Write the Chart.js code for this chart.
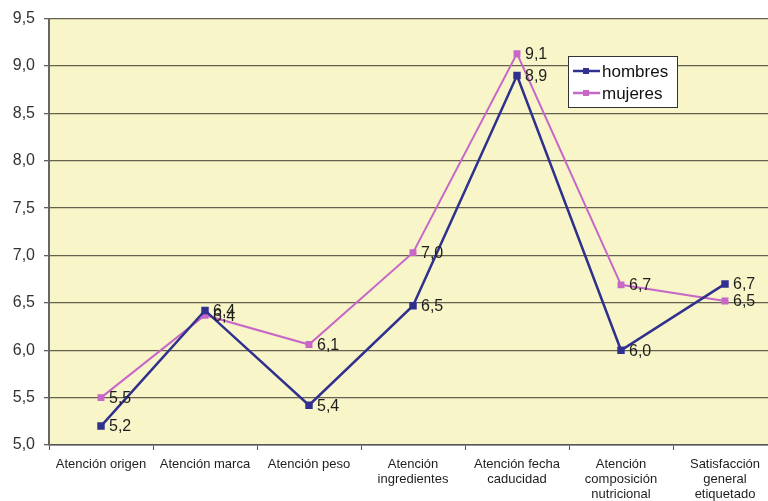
<!DOCTYPE html>
<html>
<head>
  <title>Atención al etiquetado por sexo</title>
  <script src="https://cdn.jsdelivr.net/npm/chart.js@4.4.0/dist/chart.umd.min.js"></script>
  <style>
    body { margin: 0; overflow: hidden; background: #fff; }
    #wrap { position: relative; width: 790px; height: 501px; }
  </style>
</head>
<body>
  <div id="wrap">
    <canvas id="lineChart" width="790" height="501"></canvas>
  </div>

  <script>
    // categories shown along the bottom (multi-line labels)
    const categories = [
      ['Atención origen'],
      ['Atención marca'],
      ['Atención peso'],
      ['Atención', 'ingredientes'],
      ['Atención fecha', 'caducidad'],
      ['Atención', 'composición', 'nutricional'],
      ['Satisfacción', 'general', 'etiquetado']
    ];

    const hombres = [5.2, 6.42, 5.42, 6.47, 8.9, 6.0, 6.7];
    const mujeres = [5.5, 6.37, 6.06, 7.03, 9.13, 6.69, 6.52];

    const yTicks = [5.0, 5.5, 6.0, 6.5, 7.0, 7.5, 8.0, 8.5, 9.0, 9.5];

    const fmt = v => v.toFixed(1).replace('.', ',');
    const FONT = '"Liberation Sans", Arial, sans-serif';

    // pale yellow plot background
    const plotBg = {
      id: 'plotBg',
      beforeDraw(chart) {
        const { ctx, chartArea: a } = chart;
        ctx.save();
        ctx.fillStyle = '#f8f5c8';
        ctx.fillRect(a.left, a.top, a.right - a.left, a.bottom - a.top);
        ctx.restore();
      }
    };

    // value next to every point
    const pointValues = {
      id: 'pointValues',
      afterDatasetsDraw(chart) {
        const ctx = chart.ctx;
        ctx.save();
        ctx.font = '16px ' + FONT;
        ctx.fillStyle = '#1e1e1e';
        ctx.textAlign = 'left';
        ctx.textBaseline = 'middle';
        chart.data.datasets.forEach((ds, i) => {
          chart.getDatasetMeta(i).data.forEach((pt, j) => {
            ctx.fillText(fmt(ds.data[j]), pt.x + 8, pt.y + 1);
          });
        });
        ctx.restore();
      }
    };

    // boxed legend inside the plot, top right
    const boxLegend = {
      id: 'boxLegend',
      afterDraw(chart) {
        const ctx = chart.ctx;
        const x = 568, y = 56, w = 109, h = 51;
        ctx.save();
        ctx.fillStyle = '#ffffff';
        ctx.fillRect(x, y, w, h);
        ctx.strokeStyle = '#333333';
        ctx.lineWidth = 1;
        ctx.strokeRect(x + 0.5, y + 0.5, w, h);
        ctx.font = '17px ' + FONT;
        ctx.textBaseline = 'middle';
        chart.data.datasets.forEach((ds, i) => {
          const cy = y + 15 + i * 22;
          ctx.strokeStyle = ds.borderColor;
          ctx.lineWidth = 2.5;
          ctx.beginPath();
          ctx.moveTo(x + 5, cy);
          ctx.lineTo(x + 32, cy);
          ctx.stroke();
          ctx.fillStyle = ds.borderColor;
          ctx.fillRect(x + 15, cy - 3, 6, 6);
          ctx.fillStyle = '#111';
          ctx.fillText(ds.label, x + 34, cy + 1);
        });
        ctx.restore();
      }
    };

    const ctx = document.getElementById('lineChart').getContext('2d');
    new Chart(ctx, {
      type: 'line',
      data: {
        labels: categories,
        datasets: [
          {
            label: 'hombres',
            data: hombres,
            borderColor: '#30308f',
            backgroundColor: '#30308f',
            borderWidth: 2.5,
            pointStyle: 'rect',
            pointRadius: 3.5,
            tension: 0
          },
          {
            label: 'mujeres',
            data: mujeres,
            borderColor: '#c767c7',
            backgroundColor: '#c767c7',
            borderWidth: 2,
            pointStyle: 'rect',
            pointRadius: 3.5,
            tension: 0
          }
        ]
      },
      options: {
        responsive: false,
        animation: false,
        layout: { padding: { top: 17, right: 13, left: 0, bottom: 0 } },
        plugins: {
          legend: { display: false },
          tooltip: { enabled: false }
        },
        scales: {
          x: {
            offset: true,
            grid: {
              offset: true,
              drawOnChartArea: false,
              drawTicks: true,
              tickLength: 5,
              color: '#555'
            },
            border: { color: '#555', width: 1.5 },
            ticks: {
              autoSkip: false,
              maxRotation: 0,
              padding: 7,
              color: '#1e1e1e',
              font: { family: FONT, size: 13, lineHeight: 1.15 }
            },
            afterFit: s => { s.height = 56; }
          },
          y: {
            min: 5,
            max: 9.5,
            afterBuildTicks: s => { s.ticks = yTicks.map(v => ({ value: v })); },
            grid: {
              color: '#65614f',
              lineWidth: 1.3,
              tickLength: 5
            },
            border: { color: '#666', width: 2 },
            ticks: {
              padding: 9,
              color: '#333',
              font: { family: FONT, size: 16 },
              callback: v => fmt(v)
            },
            afterFit: s => { s.width = 49; }
          }
        }
      },
      plugins: [plotBg, pointValues, boxLegend]
    });
  </script>
</body>
</html>
